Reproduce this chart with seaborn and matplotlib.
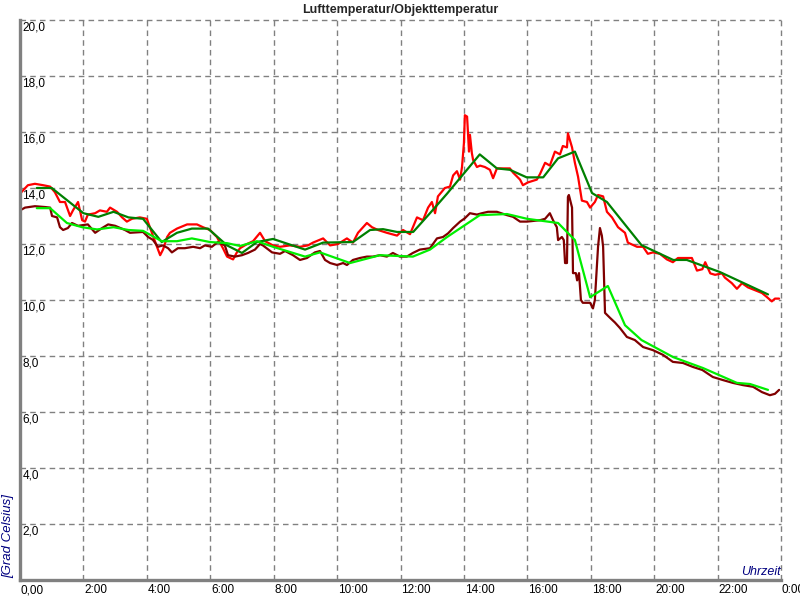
import matplotlib
matplotlib.use("Agg")
import matplotlib.pyplot as plt
import seaborn as sns
from matplotlib.transforms import blended_transform_factory

# Lufttemperatur (rot), Stunden / Grad
air_time = [0.00, 0.25, 0.47, 0.73, 0.95, 1.10, 1.26, 1.42, 1.58, 1.67, 1.83, 1.96, 2.05, 2.14,
            2.37, 2.52, 2.74, 2.84, 3.06, 3.22, 3.37, 3.53, 3.78, 4.00, 4.16, 4.32, 4.42, 4.51,
            4.64, 4.73, 4.95, 5.27, 5.58, 5.77, 5.99, 6.21, 6.40, 6.53, 6.72, 6.84, 6.94, 7.16,
            7.35, 7.57, 7.73, 7.98, 8.20, 8.51, 8.83, 9.08, 9.24, 9.56, 9.78, 10.03, 10.31, 10.50,
            10.66, 10.94, 11.10, 11.29, 11.57, 11.89, 12.08, 12.30, 12.52, 12.71, 12.87, 12.99,
            13.09, 13.18, 13.40, 13.56, 13.66, 13.78, 13.88, 13.94, 14.00, 14.03, 14.10, 14.13,
            14.16, 14.19, 14.25, 14.29, 14.41, 14.51, 14.66, 14.82, 14.92, 15.04, 15.23, 15.45,
            15.55, 15.77, 15.86, 16.02, 16.30, 16.40, 16.56, 16.71, 16.87, 17.03, 17.12, 17.25,
            17.28, 17.41, 17.50, 17.60, 17.72, 17.88, 17.98, 18.13, 18.23, 18.39, 18.51, 18.67,
            18.86, 19.08, 19.17, 19.46, 19.65, 19.80, 19.96, 20.18, 20.40, 20.59, 20.75, 20.97,
            21.19, 21.35, 21.52, 21.61, 21.77, 21.92, 22.14, 22.23, 22.45, 22.61, 22.77, 22.96,
            23.18, 23.40, 23.56, 23.71, 23.81, 23.94]
air_temp = [13.8, 14.1, 14.15, 14.1, 14.05, 13.85, 13.5, 13.5, 13.0, 13.2, 13.5, 12.85, 12.8, 13.05,
            13.1, 13.2, 13.15, 13.3, 13.15, 12.95, 12.8, 12.9, 12.95, 12.9, 12.4, 11.9, 11.6, 11.8,
            12.25, 12.4, 12.55, 12.7, 12.7, 12.6, 12.5, 12.25, 11.85, 11.55, 11.45, 11.7, 11.85, 12.0,
            12.1, 12.4, 12.1, 11.95, 11.9, 11.95, 11.9, 11.95, 12.05, 12.2, 11.95, 12.0, 12.2, 12.05,
            12.4, 12.75, 12.6, 12.5, 12.4, 12.3, 12.5, 12.35, 12.95, 12.85, 13.3, 13.5,
            13.1, 13.7, 14.0, 14.05, 14.45, 14.6, 14.3, 14.75, 15.6, 16.6, 16.55, 15.95,
            15.3, 15.9, 15.25, 15.0, 14.75, 14.8, 14.75, 14.65, 14.35, 14.7, 14.7, 14.7,
            14.55, 14.3, 14.1, 14.2, 14.3, 14.5, 14.9, 14.8, 15.3, 15.2, 15.5, 15.45,
            15.95, 15.45, 14.9, 14.4, 13.55, 13.5, 13.3, 13.5, 13.75, 13.7, 13.15, 12.95,
            12.6, 12.4, 12.05, 11.9, 11.9, 11.65, 11.7, 11.65, 11.45, 11.35, 11.5, 11.5,
            11.5, 11.05, 11.1, 11.35, 10.95, 10.9, 10.95, 10.8, 10.6, 10.4, 10.6, 10.45,
            10.35, 10.25, 10.1, 9.95, 10.05, 10.05]

# Lufttemperatur geglaettet (dunkelgruen)
air_smooth_time = [0.53, 1.0, 2.0, 2.47, 2.95, 3.42, 3.88, 4.47, 4.95, 5.42, 5.93, 6.53, 7.0, 7.47,
                   7.98, 8.99, 9.56, 10.5, 11.04, 11.45, 11.89, 12.4, 12.93, 13.47, 14.5, 15.04,
                   15.45, 15.98, 16.5, 16.97, 17.5, 18.04, 18.51, 19.6, 20.6, 21.03, 22.07, 23.59]
air_smooth_temp = [14.0, 14.0, 13.1, 12.97, 13.15, 12.95, 12.9, 12.07, 12.4, 12.55, 12.55, 11.95, 11.68, 12.07,
                   12.18, 11.8, 12.05, 12.07, 12.5, 12.53, 12.43, 12.43, 13.1, 13.8, 15.2, 14.7,
                   14.65, 14.38, 14.38, 15.06, 15.3, 13.82, 13.5, 11.96, 11.43, 11.43, 11.0, 10.2]

# Objekttemperatur (dunkelrot)
obj_time = [0.00, 0.16, 0.47, 0.79, 0.95, 1.01, 1.17, 1.26, 1.36, 1.51, 1.64, 1.83, 2.14, 2.37,
            2.59, 2.78, 3.00, 3.31, 3.47, 3.88, 4.04, 4.19, 4.35, 4.51, 4.67, 4.79, 4.98, 5.20,
            5.46, 5.68, 5.83, 6.05, 6.24, 6.46, 6.56, 6.78, 7.00, 7.19, 7.41, 7.57, 7.66, 7.95,
            8.20, 8.36, 8.61, 8.83, 9.05, 9.30, 9.46, 9.62, 9.78, 10.00, 10.19, 10.31, 10.50, 10.72,
            10.94, 11.13, 11.35, 11.57, 11.76, 11.98, 12.20, 12.39, 12.61, 12.93, 13.15, 13.34,
            13.50, 13.66, 13.88, 14.03, 14.19, 14.41, 14.57, 14.76, 15.04, 15.36, 15.55, 15.77,
            15.99, 16.40, 16.56, 16.71, 16.81, 16.93, 16.97, 17.09, 17.15, 17.19, 17.25, 17.28,
            17.31, 17.41, 17.44, 17.53, 17.57, 17.63, 17.69, 17.75, 17.98, 18.07, 18.13, 18.23,
            18.29, 18.35, 18.39, 18.45, 18.61, 18.76, 18.92, 19.14, 19.39, 19.65, 19.96, 20.28,
            20.59, 20.91, 21.22, 21.52, 21.85, 22.17, 22.48, 22.80, 23.12, 23.40, 23.65, 23.81, 23.94]
obj_temp = [13.2, 13.3, 13.35, 13.32, 13.3, 13.0, 12.95, 12.6, 12.5, 12.57, 12.75, 12.65, 12.7, 12.4,
            12.57, 12.7, 12.65, 12.5, 12.4, 12.43, 12.25, 12.15, 11.9, 11.95, 11.85, 11.7, 11.85, 11.85,
            11.9, 11.85, 11.95, 11.9, 12.07, 11.95, 11.6, 11.55, 11.6, 11.68, 11.8, 12.0, 11.95, 11.7,
            11.65, 11.75, 11.6, 11.43, 11.5, 11.7, 11.75, 11.43, 11.32, 11.25, 11.32, 11.25, 11.43, 11.5,
            11.55, 11.55, 11.6, 11.55, 11.68, 11.55, 11.55, 11.68, 11.8, 11.85, 12.2, 12.25,
            12.38, 12.57, 12.8, 12.92, 13.1, 13.05, 13.1, 13.15, 13.15, 13.03, 12.97, 12.8,
            12.8, 12.85, 12.9, 13.1, 12.85, 12.6, 12.14, 12.25, 12.14, 11.32, 11.32, 13.68,
            13.75, 13.3, 10.96, 10.96, 10.7, 10.96, 10.0, 9.9, 9.9, 9.7, 10.0, 11.9,
            12.57, 12.3, 11.9, 9.54, 9.36, 9.2, 9.0, 8.68, 8.57, 8.32, 8.21, 8.04,
            7.79, 7.75, 7.61, 7.5, 7.25, 7.14, 7.04, 6.96, 6.9, 6.71, 6.6, 6.65, 6.79]

# Objekttemperatur geglaettet (hellgruen)
obj_smooth_time = [0.53, 0.95, 1.48, 1.96, 2.43, 2.95, 3.42, 3.88, 4.47, 4.95, 5.42, 5.99, 6.53, 6.94,
                   7.47, 7.98, 8.99, 9.46, 10.41, 11.35, 12.39, 12.93, 13.47, 14.5, 15.36, 15.99,
                   16.97, 17.5, 17.98, 18.54, 19.08, 19.6, 20.6, 21.54, 22.61, 23.02, 23.59]
obj_smooth_temp = [13.28, 13.28, 12.75, 12.6, 12.52, 12.6, 12.5, 12.47, 12.1, 12.1, 12.2, 12.07, 12.03, 11.93,
                   12.1, 11.9, 11.55, 11.7, 11.32, 11.6, 11.55, 11.8, 12.25, 13.03, 13.07, 12.9,
                   12.75, 12.14, 10.1, 10.5, 9.1, 8.57, 7.96, 7.57, 7.04, 7.0, 6.79]

x_ticks = list(range(0, 25, 2))
x_labels = ["0,00"] + [f"{h}:00" for h in range(2, 24, 2)] + ["0:00"]
y_ticks = list(range(2, 21, 2))
y_labels = [f"{v},0" for v in y_ticks]

sns.set_style("white")
plt.rcParams["font.family"] = ["Liberation Sans", "DejaVu Sans"]

fig = plt.figure(figsize=(8, 6), dpi=100)
ax = fig.add_axes([20 / 800, 20 / 600, 761 / 800, 560 / 600])

series = [
    (air_time, air_temp, "#ff0000"),
    (obj_time, obj_temp, "#800000"),
    (air_smooth_time, air_smooth_temp, "#008000"),
    (obj_smooth_time, obj_smooth_temp, "#00ee00"),
]
for t, v, col in series:
    sns.lineplot(x=t, y=v, color=col, linewidth=1.6, estimator=None, sort=False, ax=ax)

ax.set_xlim(0, 24)
ax.set_ylim(0, 20)
ax.set_xticks(x_ticks)
ax.set_yticks([0] + y_ticks)
ax.tick_params(length=0, labelbottom=False, labelleft=False)
ax.set_xlabel("")
ax.set_ylabel("")
ax.grid(True, color="#808080", linestyle=(0, (4, 3)), linewidth=1)
for gl in ax.get_xgridlines() + ax.get_ygridlines():
    gl.set_clip_on(False)

for side in ["top", "right"]:
    ax.spines[side].set_visible(False)
for side in ["left", "bottom"]:
    ax.spines[side].set_color("#808080")
    ax.spines[side].set_linewidth(2.4)

# Beschriftungen im Stil der Vorlage
ty = blended_transform_factory(ax.transAxes, ax.transData)
for v, lab in zip(y_ticks, y_labels):
    ax.text(0.003, v - 0.05, lab, transform=ty, ha="left", va="top", fontsize=8.5, color="black")

tx = blended_transform_factory(ax.transData, ax.transAxes)
for h, lab in zip(x_ticks, x_labels):
    ax.text(h + 0.03, -0.008, lab, transform=tx, ha="left", va="top", fontsize=8.5, color="black")

fig.text(0.5, 1 - 10 / 600, "Lufttemperatur/Objekttemperatur", ha="center", va="center",
         fontsize=9, fontweight="bold")
fig.text(8 / 800, 22 / 600, "[Grad Celsius]", rotation=90, ha="center", va="bottom",
         fontsize=9.5, style="italic", color="#000080")
ax.text(1.0, 0.004, "Uhrzeit", transform=ax.transAxes, ha="right", va="bottom",
        fontsize=9, style="italic", color="#000080")

fig.savefig("out.png", dpi=100)
